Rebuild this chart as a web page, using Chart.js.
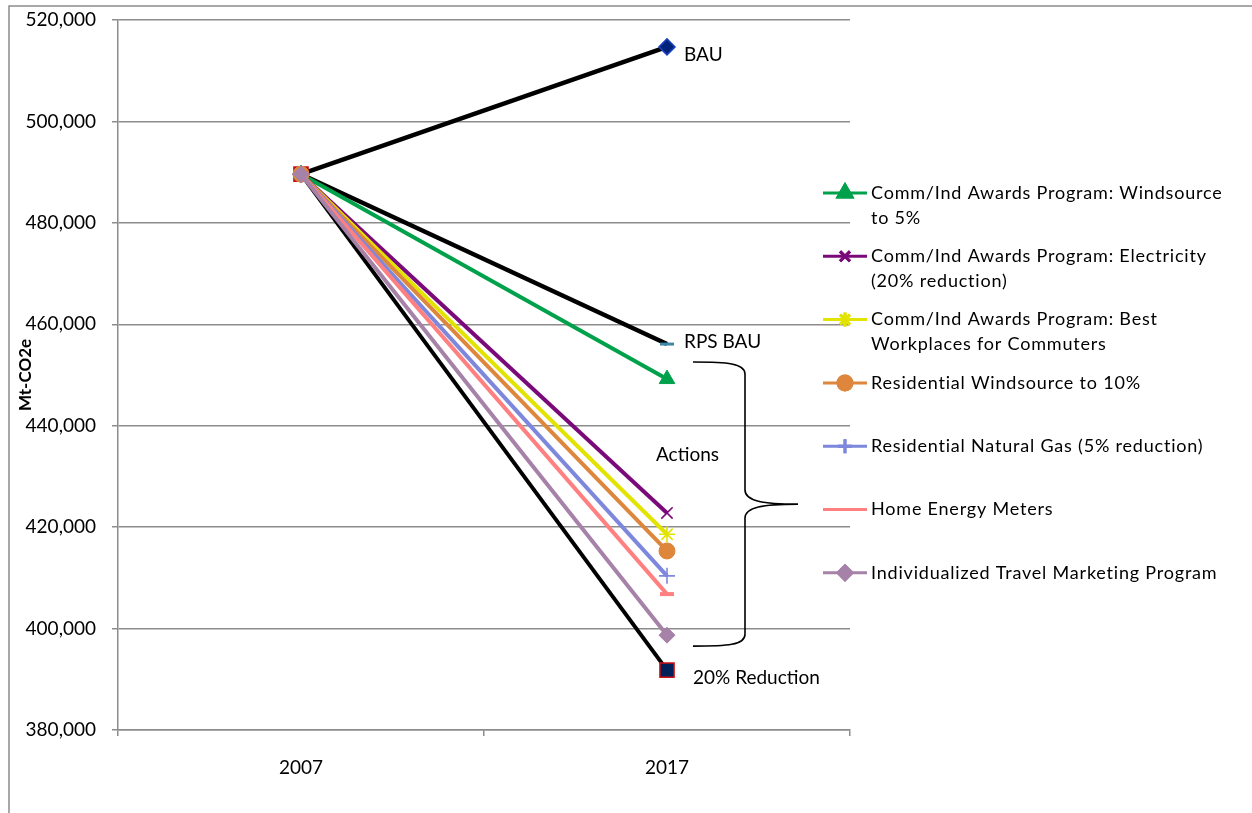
<!DOCTYPE html>
<html>
<head>
<meta charset="utf-8">
<script src="https://cdn.jsdelivr.net/npm/chart.js@4"></script>
<style>
  html, body { margin: 0; padding: 0; background: #fff; }
  #wrap { width: 1252px; height: 813px; position: relative; }
</style>
</head>
<body>
<div id="wrap"><canvas id="emissionsChart"></canvas></div>
<script>
// emissions, Mt-CO2e
const years = ['2007', '2017'];
const bau = [489600, 514700];
const rpsBau = [489600, 456100];
const reduction20 = [489600, 391800];

const actionNames = [
  'Comm/Ind Awards Program: Windsource\nto 5%',
  'Comm/Ind Awards Program: Electricity\n(20% reduction)',
  'Comm/Ind Awards Program: Best\nWorkplaces for Commuters',
  'Residential Windsource to 10%',
  'Residential Natural Gas (5% reduction)',
  'Home Energy Meters',
  'Individualized Travel Marketing Program'
];
const windsource5 = [489600, 449200];
const electricity20 = [489600, 422800];
const bestWorkplaces = [489600, 418600];
const resWindsource10 = [489600, 415300];
const resNaturalGas = [489600, 410400];
const homeMeters = [489600, 406800];
const travelMarketing = [489600, 398700];

const yMin = 380000;
const yMax = 520000;
const yStep = 20000;

const FONT = 'Lato, "Open Sans", sans-serif';

const actionValues = [windsource5, electricity20, bestWorkplaces, resWindsource10,
  resNaturalGas, homeMeters, travelMarketing];
const actionStyles = [
  { color: '#00a14b', point: 'triangle', r: 9, fill: '#00a14b' },
  { color: '#7a0a7a', point: 'crossRot', r: 8, fill: '#7a0a7a' },
  { color: '#e3e300', point: 'star', r: 8, fill: '#e3e300' },
  { color: '#dd863c', point: 'circle', r: 8, fill: '#dd863c' },
  { color: '#7d88dc', point: 'cross', r: 8, fill: '#7d88dc' },
  { color: '#ff8080', point: 'line', r: 7, fill: '#ff8080' },
  { color: '#a682a8', point: 'rectRot', r: 8, fill: '#a682a8' }
];

const datasets = [
  { label: 'BAU', data: bau, borderColor: '#000', borderWidth: 4.5,
    pointStyle: 'rectRot', pointRadius: 8, pointBackgroundColor: '#00237a',
    pointBorderColor: '#1a3fc0', pointBorderWidth: 1.5 },
  { label: 'RPS BAU', data: rpsBau, borderColor: '#000', borderWidth: 4.5,
    pointStyle: 'line', pointRadius: 7, pointBorderColor: '#3f86a8', pointBorderWidth: 3 },
  { label: '20% Reduction', data: reduction20, borderColor: '#000', borderWidth: 4,
    pointStyle: 'rect', pointRadius: 10, pointBackgroundColor: '#00205a',
    pointBorderColor: '#d01010', pointBorderWidth: 1.5 }
];
actionValues.forEach((vals, i) => {
  const s = actionStyles[i];
  datasets.push({
    label: actionNames[i].replace('\n', ' '), data: vals,
    borderColor: s.color, borderWidth: 4,
    pointStyle: s.point, pointRadius: s.r,
    pointBackgroundColor: s.fill, pointBorderColor: s.color,
    pointBorderWidth: (s.point === 'cross' || s.point === 'crossRot' || s.point === 'star') ? 1.6 : (s.point === 'line' ? 4 : 1)
  });
});
// later series sit on top
datasets.forEach((d, i) => { d.order = -i; d.tension = 0; d.fill = false; });

const decorations = {
  id: 'decorations',
  beforeDraw(chart) {
    const ctx = chart.ctx;
    ctx.save();
    ctx.strokeStyle = '#8c8c8c';
    ctx.lineWidth = 1.5;
    ctx.beginPath();
    ctx.moveTo(9, chart.height);
    ctx.lineTo(9, 6);
    ctx.lineTo(chart.width, 6);
    ctx.stroke();
    ctx.restore();
  },
  afterDraw(chart) {
    const ctx = chart.ctx;
    const area = chart.chartArea;
    const pt = (ds) => chart.getDatasetMeta(ds).data[1];
    ctx.save();
    ctx.fillStyle = '#000';
    ctx.textBaseline = 'middle';
    ctx.textAlign = 'left';
    ctx.font = '19px ' + FONT;
    const pB = pt(0), pR = pt(1), p20 = pt(2);
    ctx.fillText('BAU', pB.x + 17, pB.y + 8);
    ctx.fillText('RPS BAU', pR.x + 17, pR.y - 2);
    ctx.fillText('20% Reduction', p20.x + 26, p20.y + 8);

    // curly brace spanning the action results
    const bx0 = pR.x + 26, bx = pR.x + 78, tip = pR.x + 131;
    const top = pR.y + 18, bot = p20.y - 24, mid = (top + bot) / 2;
    ctx.fillText('Actions', pR.x - 11, mid - 49);
    ctx.strokeStyle = '#000';
    ctx.lineWidth = 1.6;
    ctx.beginPath();
    ctx.moveTo(bx0, top);
    ctx.bezierCurveTo(bx - 18, top, bx, top + 1, bx, top + 12);
    ctx.lineTo(bx, mid - 14);
    ctx.bezierCurveTo(bx, mid - 3, bx + 18, mid, tip, mid);
    ctx.bezierCurveTo(bx + 18, mid, bx, mid + 3, bx, mid + 14);
    ctx.lineTo(bx, bot - 12);
    ctx.bezierCurveTo(bx, bot - 1, bx - 18, bot, bx0, bot);
    ctx.stroke();

    // legend for the actions
    const lx = area.right - 27;
    const ly0 = area.top + 173;
    const step = 63.3;
    ctx.font = '18px ' + FONT;
    ctx.letterSpacing = '0.8px';
    actionNames.forEach((name, i) => {
      const s = actionStyles[i];
      const y = ly0 + i * step;
      ctx.strokeStyle = s.color;
      ctx.lineWidth = 3;
      ctx.beginPath();
      ctx.moveTo(lx, y);
      ctx.lineTo(lx + 44, y);
      ctx.stroke();
      const ds = datasets[3 + i];
      Chart.helpers.drawPoint(ctx, {
        pointStyle: s.point, radius: s.r - 1, rotation: 0,
        borderWidth: ds.pointBorderWidth
      }, lx + 22, y);
      ctx.fillStyle = s.fill;
      ctx.strokeStyle = s.color;
      ctx.fill();
      ctx.stroke();
      ctx.fillStyle = '#000';
      name.split('\n').forEach((line, k) => {
        ctx.fillText(line, lx + 48, y + k * 25);
      });
    });
    ctx.restore();
  }
};

new Chart(document.getElementById('emissionsChart'), {
  type: 'line',
  data: { labels: years, datasets: datasets },
  options: {
    responsive: true,
    maintainAspectRatio: false,
    animation: false,
    layout: { padding: { top: 20, right: 402, bottom: 0, left: 0 } },
    plugins: { legend: { display: false }, tooltip: { enabled: false } },
    scales: {
      x: {
        type: 'category',
        offset: true,
        grid: { offset: true, drawOnChartArea: false, drawTicks: true, tickLength: 6,
          color: '#8c8c8c', lineWidth: 1.5 },
        border: { color: '#8c8c8c', width: 1.5 },
        ticks: { color: '#000', font: { family: FONT, size: 19 }, padding: 20 },
        afterFit(scale) { scale.height = 83; }
      },
      y: {
        min: yMin,
        max: yMax,
        grid: { color: '#8c8c8c', lineWidth: 1.5, tickLength: 6 },
        border: { color: '#8c8c8c', width: 1.5 },
        ticks: {
          stepSize: yStep, color: '#000', padding: 16,
          font: { family: FONT, size: 19 },
          callback: (v) => v.toLocaleString('en-US')
        },
        title: {
          display: true, text: 'Mt-CO2e', color: '#000',
          font: { family: FONT, size: 17, weight: 'bold' },
          padding: { top: 15, bottom: 0 }
        },
        afterFit(scale) {
          scale.width = 118;
          scale.paddingTop = 0;
          scale.paddingBottom = 0;
        }
      }
    }
  },
  plugins: [decorations]
});
</script>
</body>
</html>
